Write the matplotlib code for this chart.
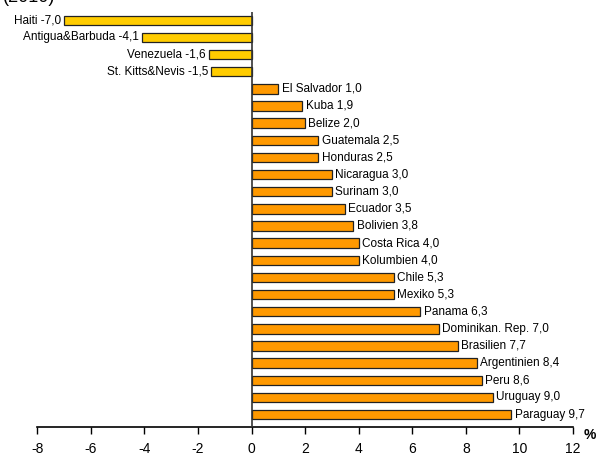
import matplotlib.pyplot as plt

# Growth by country, sorted as shown top to bottom
countries = ['Haiti', 'Antigua&Barbuda', 'Venezuela', 'St. Kitts&Nevis', 'El Salvador',
             'Kuba', 'Belize', 'Guatemala', 'Honduras', 'Nicaragua', 'Surinam', 'Ecuador',
             'Bolivien', 'Costa Rica', 'Kolumbien', 'Chile', 'Mexiko', 'Panama',
             'Dominikan. Rep.', 'Brasilien', 'Argentinien', 'Peru', 'Uruguay', 'Paraguay']
values = [-7.0, -4.1, -1.6, -1.5, 1.0, 1.9, 2.0, 2.5, 2.5, 3.0, 3.0, 3.5, 3.8, 4.0, 4.0,
          5.3, 5.3, 6.3, 7.0, 7.7, 8.4, 8.6, 9.0, 9.7]
xticks = [-8, -6, -4, -2, 0, 2, 4, 6, 8, 10, 12]

NEG_COLOR = '#FFCC00'
POS_COLOR = '#FF9900'

plt.rcParams['font.family'] = ['Liberation Sans', 'DejaVu Sans']

fig = plt.figure(figsize=(6, 4.55), dpi=100)
ax = fig.add_axes([0.062, 0.0615, 0.893, 0.9125])

positions = list(range(len(values)))
colors = [NEG_COLOR if v < 0 else POS_COLOR for v in values]
ax.barh(positions, values, height=0.55, color=colors, edgecolor='#222222', linewidth=0.9, zorder=3)

# value labels next to the bar ends, decimal comma
for y, v, name in zip(positions, values, countries):
    txt = name + ' ' + ('%.1f' % v).replace('.', ',')
    if v < 0:
        ax.text(v - 0.12, y, txt, ha='right', va='center', fontsize=8.5)
    else:
        ax.text(v + 0.12, y, txt, ha='left', va='center', fontsize=8.5)

ax.set_xlim(-8, 12)
ax.set_ylim(len(values) - 1 + 0.73, -0.49)
ax.set_xticks(xticks)
ax.set_xticklabels([str(t) for t in xticks], fontsize=10)
ax.tick_params(axis='x', direction='out', length=5, width=1, color='black', pad=6)
ax.set_yticks([])
for side in ['left', 'right', 'top']:
    ax.spines[side].set_visible(False)
ax.spines['bottom'].set_linewidth(1.2)
ax.axvline(0, color='#333333', linewidth=1.2, zorder=4)

fig.text(0.983, 0.045, '%', fontsize=10, fontweight='bold', ha='center', va='center')
fig.text(0.005, 1.005, '(2010)', fontsize=13, ha='left', va='center')

fig.savefig('out.png', dpi=100)
